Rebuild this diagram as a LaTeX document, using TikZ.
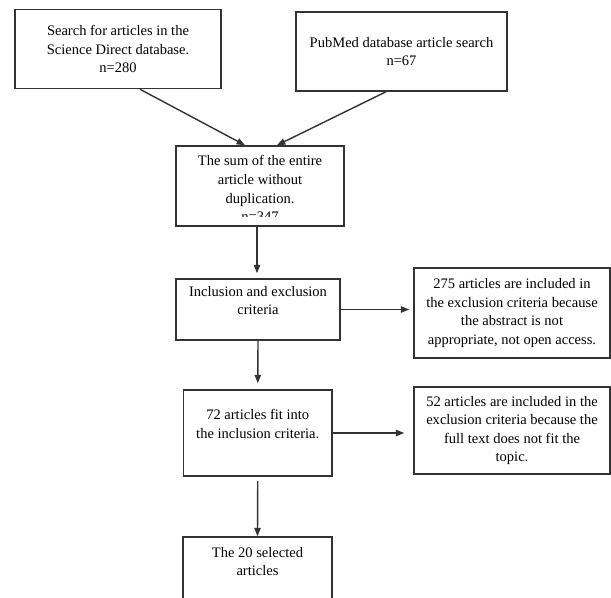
\documentclass[tikz,border=0pt]{standalone}
\usepackage{fontspec}
\setmainfont{Liberation Serif}
\usetikzlibrary{positioning, arrows.meta, calc}
\definecolor{flowLine}{HTML}{333333}

\begin{document}
\begin{tikzpicture}[
    x=0.03cm, y=-0.03cm,
    box/.style={draw=flowLine, line width=1.3pt, align=center, inner sep=0pt, font=\fontsize{12.4}{15.8}\selectfont},
    flow/.style={draw=flowLine, line width=1.2pt, -{Triangle[length=0.25cm, width=0.19cm]}}
]
\useasboundingbox (0,0) rectangle (611,598);
\clip (0,0) rectangle (611,598);

\node[box, minimum width=6.18cm, minimum height=2.37cm] (search_sd) at (118,49) {Search for articles in the\\Science Direct database.\\n=280};
\node[box, minimum width=6.33cm, minimum height=2.37cm] (search_pm) at (401.5,51.5) {PubMed database article search\\n=67};

\node[box, minimum width=5.04cm, minimum height=2.4cm] (sum) at (260,186) {};
\begin{scope}
    \clip (177,147) rectangle (343,217);
    \node[box, draw=none, anchor=north] (sum_txt) at (260,155) {The sum of the entire\\article without\\duplication.\\n=347};
\end{scope}

\node[box, minimum width=4.92cm, minimum height=1.83cm] (incl) at (258,309.5) {Inclusion and exclusion\\criteria\\ \mbox{}};
\node[box, minimum width=5.88cm, minimum height=2.7cm] (excl_abs) at (512,313) {275 articles are included in\\the exclusion criteria because\\the abstract is not\\appropriate, not open access.};

\node[box, minimum width=4.455cm, minimum height=2.58cm] (fit) at (257.75,433) {72 articles fit into\\the inclusion criteria.\\ \mbox{}};
\node[box, minimum width=5.88cm, minimum height=2.61cm] (excl_full) at (512,430.5) {52 articles are included in the\\exclusion criteria because the\\full text does not fit the\\topic.};

\node[box, minimum width=4.47cm, minimum height=2.58cm] (selected) at (257.5,580) {The 20 selected\\articles\\ \mbox{}\\ \mbox{}};

% connectors
\draw[flow] ([xshift=0.66cm]search_sd.south) -- ([xshift=-0.45cm]sum.north);
\draw[flow] ([xshift=-0.465cm]search_pm.south) -- ([xshift=0.51cm]sum.north);
\draw[flow, shorten >=0.15cm] ([xshift=-0.09cm]sum.south) -- ([xshift=-0.03cm]incl.north);
\draw[flow, shorten >=0.12cm] (incl.east) -- (incl.east -| excl_abs.west);
\draw[flow, shorten >=0.18cm] (incl.south) -- (fit.north);
\draw[flow, shorten >=0.27cm] (fit.east) -- (fit.east -| excl_full.west);
\draw[flow, shorten <=0.12cm] (fit.south) -- (selected.north);
\end{tikzpicture}
\end{document}
